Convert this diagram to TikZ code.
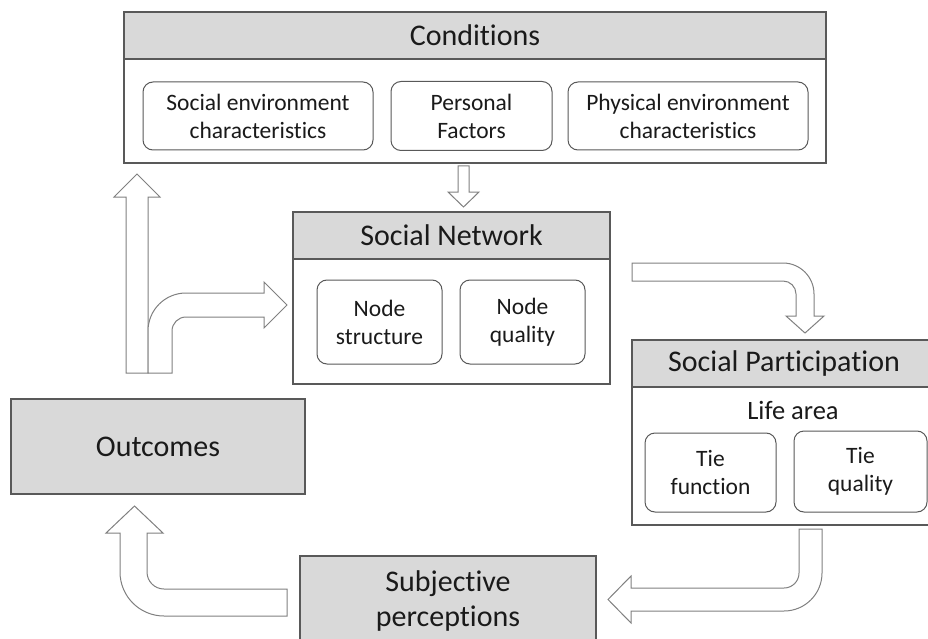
\documentclass[tikz,border=0pt]{standalone}
\usepackage{fontspec}
\setmainfont{Carlito}[Ligatures={NoCommon,NoRare,NoContextual}]
\definecolor{hdr}{HTML}{D9D9D9}
\definecolor{edge}{HTML}{595959}
\definecolor{arr}{HTML}{808080}
\definecolor{txt}{HTML}{1A1A1A}
\tikzset{
  frame/.style={draw=edge, line width=1.4pt, fill=white},
  header/.style={draw=edge, line width=1.4pt, fill=hdr},
  item/.style={draw=edge, line width=1pt, rounded corners=10pt, align=center, text=txt,
    font=\fontsize{23.5}{28}\selectfont, inner sep=0pt},
  blockarrow/.style={draw=arr, line width=1pt, fill=white, line join=miter},
  title/.style={text=txt, font=\fontsize{30}{35}\selectfont, align=center, inner sep=0pt},
}
\begin{document}
\begin{tikzpicture}[x=1pt,y=-1pt]
\useasboundingbox (0,0) rectangle (928,639);

% ---------- Conditions ----------
\draw[frame] (124,12) rectangle (826,163);
\draw[header] (124,12) rectangle (826,59);
\node[title] (cond) at (475,35.5) {Conditions};
\node[item, minimum width=230pt, minimum height=68pt] (soc) at (258,116) {Social environment\\characteristics};
\node[item, minimum width=161pt, minimum height=69pt] (pers) at (471.5,116) {Personal\\Factors};
\node[item, minimum width=240pt, minimum height=68pt] (phys) at (688,116) {Physical environment\\characteristics};

% ---------- Social Network ----------
\draw[frame] (293,212) rectangle (610,384);
\draw[header] (293,212) rectangle (610,259);
\node[title] (sn) at (451.5,235.5) {Social Network};
\node[item, minimum width=125pt, minimum height=84pt] (ns) at (379.5,322) {Node\\structure};
\node[item, minimum width=125pt, minimum height=84pt] (nq) at (522.5,322) {Node\\quality};

% ---------- Social Participation ----------
\draw[frame] (632,340) rectangle (936,525);
\draw[header] (632,340) rectangle (936,387);
\node[title] (sp) at (784,363.5) {Social Participation};
\node[text=txt, font=\fontsize{26.5}{31}\selectfont, inner sep=0pt] (life) at (793,410) {Life area};
\node[item, minimum width=131pt, minimum height=79pt] (tf) at (710.5,472.5) {Tie\\function};
\node[item, minimum width=133pt, minimum height=81pt] (tq) at (860.5,471.5) {Tie\\quality};

% ---------- Outcomes ----------
\draw[header] (11,399) rectangle (305,494);
\node[title] (out) at (158,446.5) {Outcomes};

% ---------- Subjective perceptions ----------
\draw[header] (300,556) rectangle (596,662);
\node[title] (subj) at (448,601) {Subjective\\perceptions};

% ---------- Block arrows ----------
% Conditions -> Social Network
\draw[blockarrow] (458,166) -- (469,166) -- (469,192) -- (479,192) -- (463.5,207)
  -- (448,192) -- (458,192) -- cycle;

% straight up to Conditions
\draw[blockarrow] (126,373) -- (126,197) -- (114,197) -- (137,174) -- (160,197)
  -- (148,197) -- (148,373) -- cycle;

% bent arrow to Social Network
\draw[blockarrow] (148,373) -- (148,331) arc[start angle=180, end angle=270, radius=38]
  -- (264,293) -- (264,282) -- (287,305) -- (264,328) -- (264,317) -- (186,317)
  arc[start angle=270, end angle=180, radius=14] -- (172,373) -- cycle;

% Social Network -> Social Participation
\draw[blockarrow] (632,263) -- (783,263) arc[start angle=-90, end angle=0, radius=31]
  -- (814,316) -- (824,316) -- (805,333) -- (786,316) -- (796,316) -- (796,294)
  arc[start angle=0, end angle=-90, radius=13] -- (632,281) -- cycle;

% Social Participation -> Subjective perceptions
\draw[blockarrow] (799,529) -- (822,529) -- (822,573) arc[start angle=0, end angle=90, radius=38]
  -- (631,611) -- (631,623) -- (608,599.5) -- (631,576) -- (631,588) -- (784,588)
  arc[start angle=90, end angle=0, radius=15] -- cycle;

% Subjective perceptions -> Outcomes
\draw[blockarrow] (287,589) -- (164,589) arc[start angle=90, end angle=180, radius=17]
  -- (147,533) -- (163,533) -- (134.5,506) -- (106,533) -- (120,533) -- (120,572)
  arc[start angle=180, end angle=90, radius=44] -- (287,616) -- cycle;
\end{tikzpicture}
\end{document}
